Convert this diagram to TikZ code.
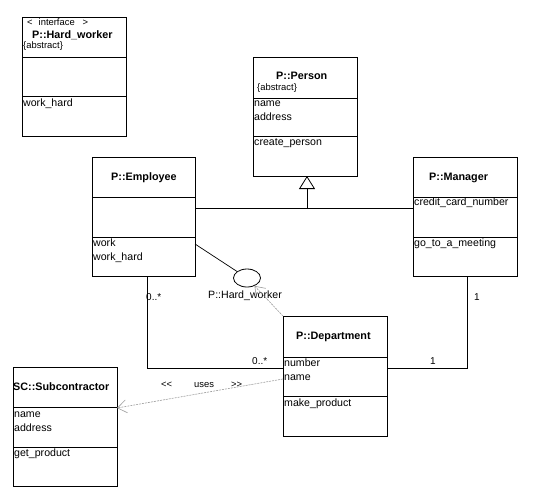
\documentclass[tikz,border=0pt]{standalone}
\usepackage{fontspec}
\setmainfont{Liberation Sans}
\usetikzlibrary{arrows.meta,shapes.geometric}
\begin{document}
\begin{tikzpicture}[x=1pt,y=-1pt,
  cls/.style={draw=black,line width=0.9pt,rectangle,inner sep=0pt,outer sep=0pt,anchor=north west},
  div/.style={line width=0.9pt},
  txt/.style={inner sep=0pt,anchor=base west,font=\fontsize{10.6}{12}\selectfont},
  ttl/.style={inner sep=0pt,anchor=base west,font=\fontsize{10.8}{12}\selectfont\bfseries},
  sml/.style={inner sep=0pt,anchor=base west,font=\fontsize{9.4}{11}\selectfont},
  conn/.style={line width=0.9pt},
  dep/.style={draw=black!38,line width=0.6pt,dash pattern=on 2pt off 1pt},
  barb/.style={-{Straight Barb[length=9pt,width=13pt,line width=0.6pt]}}
]
\path[use as bounding box,fill=white] (0,0) rectangle (534,500);

% Hard_worker interface
\node[cls,minimum width=104pt,minimum height=119pt] (hw) at (22,17) {};
\draw[div] (22,57) -- (126,57);
\draw[div] (22,96) -- (126,96);
\node[sml] (hwst) at (27,26) {<\hspace{6pt}interface\hspace{8pt}>};
\node[ttl] (hwt) at (32,39) {P::Hard\_worker};
\node[sml] (hwa) at (23,49) {\{abstract\}};
\node[txt] (hwo) at (23,106) {work\_hard};

% Person
\node[cls,minimum width=104pt,minimum height=119pt] (per) at (253,57) {};
\draw[div] (253,98) -- (357,98);
\draw[div] (253,136) -- (357,136);
\node[ttl] (pert) at (276,80) {P::Person};
\node[sml] (pera) at (257,90) {\{abstract\}};
\node[txt] (per1) at (254,106) {name};
\node[txt] (per2) at (254,120) {address};
\node[txt] (per3) at (254,145) {create\_person};

% Employee
\node[cls,minimum width=103pt,minimum height=119pt] (emp) at (92,157) {};
\draw[div] (92,197) -- (195,197);
\draw[div] (92,237) -- (195,237);
\node[ttl] (empt) at (111,180) {P::Employee};
\node[txt] (emp1) at (93,246) {work};
\node[txt] (emp2) at (93,260) {work\_hard};

% Manager
\node[cls,minimum width=104pt,minimum height=119pt] (mgr) at (413,157) {};
\draw[div] (413,197) -- (517,197);
\draw[div] (413,237) -- (517,237);
\node[ttl] (mgrt) at (429,180) {P::Manager};
\node[txt] (mgr1) at (414,205) {credit\_card\_number};
\node[txt] (mgr2) at (414,246) {go\_to\_a\_meeting};

% Department
\node[cls,minimum width=104pt,minimum height=120pt] (dept) at (283,316) {};
\draw[div] (283,357) -- (387,357);
\draw[div] (283,396) -- (387,396);
\node[ttl] (deptt) at (296,339) {P::Department};
\node[txt] (dept1) at (284,366) {number};
\node[txt] (dept2) at (284,380) {name};
\node[txt] (dept3) at (284,406) {make\_product};

% Subcontractor
\node[cls,minimum width=104pt,minimum height=119pt] (sub) at (13,367) {};
\draw[div] (13,407) -- (117,407);
\draw[div] (13,447) -- (117,447);
\node[ttl] (subt) at (13,390) {SC::Subcontractor};
\node[txt] (sub1) at (14,417) {name};
\node[txt] (sub2) at (14,431) {address};
\node[txt] (sub3) at (14,456) {get\_product};

% Lollipop interface
\node[ellipse,draw=black,line width=0.8pt,minimum width=27pt,minimum height=18pt,inner sep=0pt] (lol) at (247,278) {};
\node[txt] (loll) at (208,298) {P::Hard\_worker};
\draw[line width=0.7pt] ([yshift=-87pt]emp.north east) -- (lol);

% Generalization
\coordinate (gj) at (307,208);
\draw[conn] ([yshift=-51pt]emp.north east) -- ([yshift=-51pt]mgr.north west);
\draw[conn,-{Triangle[open,length=13pt,width=16pt,line width=0.8pt]}] (gj) -- ([xshift=54pt]per.south west);

% Associations
\draw[conn] ([xshift=55pt]emp.south west) |- ([yshift=-52pt]dept.north west);
\draw[conn] ([xshift=54pt]mgr.south west) |- ([yshift=-52pt]dept.north east);
\node[txt,font=\fontsize{10}{12}\selectfont] (m1) at (146,300) {0..*};
\node[txt,font=\fontsize{10}{12}\selectfont] (m2) at (252,364) {0..*};
\node[txt,font=\fontsize{10}{12}\selectfont] (m3) at (474,300) {1};
\node[txt,font=\fontsize{10}{12}\selectfont] (m4) at (430,364) {1};

% Dependencies
\draw[dep,barb] (dept.north west) -- (lol);
\draw[dep,barb] ([yshift=-63pt]dept.north west) -- ([yshift=-41pt]sub.north east);
\node[sml] (uses) at (161,387) {{<}{<}\hspace{22pt}uses\hspace{17pt}{>}{>}};
\end{tikzpicture}
\end{document}
